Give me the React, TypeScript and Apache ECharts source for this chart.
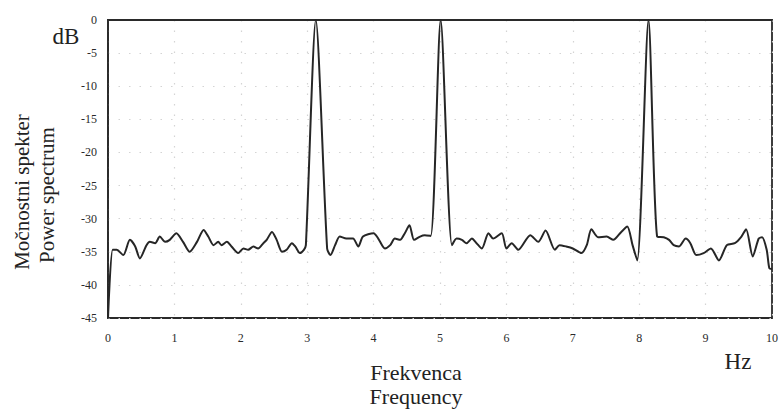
import React, { useEffect, useRef } from "react";
import * as echarts from "echarts";

const freqHz = [
  0, 0.07, 0.13, 0.23, 0.33, 0.41, 0.48, 0.58, 0.63, 0.71, 0.78, 0.86, 0.93, 1.03, 1.13, 1.23, 1.34, 1.44, 1.51, 1.59,
  1.66, 1.71, 1.79, 1.86, 1.96, 2.04, 2.11, 2.19, 2.26, 2.34, 2.39, 2.47, 2.54, 2.62, 2.69, 2.77, 2.82, 2.89, 2.95, 2.98,
  3.13, 3.3, 3.35, 3.42, 3.49, 3.59, 3.69, 3.77, 3.84, 4.0, 4.07, 4.17, 4.25, 4.32, 4.4, 4.47, 4.54, 4.61, 4.7, 4.77,
  4.86, 5.01, 5.18, 5.25, 5.33, 5.4, 5.48, 5.55, 5.63, 5.73, 5.8, 5.93, 6.0, 6.08, 6.18, 6.36, 6.48, 6.59, 6.73, 6.8,
  6.9, 7.0, 7.13, 7.21, 7.28, 7.38, 7.51, 7.61, 7.73, 7.82, 7.9, 7.97, 8.14, 8.27, 8.37, 8.45, 8.52, 8.6, 8.7, 8.77,
  8.86, 8.97, 9.08, 9.2, 9.32, 9.44, 9.54, 9.61, 9.71, 9.8, 9.85, 9.92, 9.96, 10.0,
];

const powerDb = [
  -45, -34.7, -34.7, -35.5, -33.2, -34.2, -36.0, -34.0, -33.5, -33.7, -32.7, -33.5, -33.2, -32.2, -33.5, -35.0, -33.5, -31.7, -32.7, -34.0,
  -33.5, -34.0, -33.5, -34.2, -35.2, -34.5, -34.7, -34.2, -34.5, -33.7, -33.2, -32.0, -33.2, -35.0, -34.7, -33.7, -34.2, -35.2, -34.7, -34.0,
  0, -34.5, -35.5, -34.0, -32.7, -33.0, -33.0, -34.2, -32.7, -32.2, -33.0, -34.5, -34.0, -33.0, -33.2, -32.2, -31.0, -33.2, -32.7, -32.5,
  -32.6, 0, -34.0, -33.0, -33.2, -33.7, -33.0, -33.7, -34.5, -32.2, -33.0, -32.2, -34.5, -33.7, -34.7, -32.5, -33.5, -31.8, -34.7, -34.0,
  -34.2, -34.5, -35.2, -34.0, -31.6, -32.8, -32.7, -33.2, -32.0, -31.2, -34.0, -36.3, 0, -32.7, -32.8, -33.2, -34.0, -34.2, -33.0, -33.7,
  -35.5, -35.2, -34.5, -36.3, -34.0, -33.7, -32.7, -31.6, -35.7, -33.0, -32.8, -34.7, -37.5, -37.6,
];

const yTitleLines = ["Močnostni spekter", "Power spectrum"];
const xTitleLines = ["Frekvenca", "Frequency"];
const yUnit = "dB";
const xUnit = "Hz";

const SERIF = "'Liberation Serif', 'DejaVu Serif', serif";

export default function App() {
  const ref = useRef<HTMLDivElement>(null);

  useEffect(() => {
    if (!ref.current) return;
    const chart = echarts.init(ref.current, undefined, { renderer: "svg" });
    const data = freqHz.map((f, i) => [f, powerDb[i]]);
    chart.setOption({
      animation: false,
      backgroundColor: "#ffffff",
      grid: {
        left: 108,
        right: 9,
        top: 20,
        bottom: 91,
        show: true,
        borderColor: "#2a2a2a",
        borderWidth: 1.8,
        backgroundColor: "transparent",
      },
      xAxis: {
        type: "value",
        min: 0,
        max: 10,
        interval: 1,
        axisLine: { show: true, lineStyle: { color: "#2a2a2a", width: 1.8 } },
        axisTick: { show: false },
        axisLabel: { color: "#2a2a2a", fontFamily: SERIF, fontSize: 12, margin: 14 },
        splitLine: { show: true, lineStyle: { color: "#d4d4d4", type: [1.5, 9], width: 1.2 } },
      },
      yAxis: {
        type: "value",
        min: -45,
        max: 0,
        interval: 5,
        axisLine: { show: true, lineStyle: { color: "#2a2a2a", width: 1.8 } },
        axisTick: { show: false },
        axisLabel: { color: "#2a2a2a", fontFamily: SERIF, fontSize: 12, margin: 11 },
        splitLine: { show: true, lineStyle: { color: "#d4d4d4", type: [1.5, 9], width: 1.2 } },
      },
      series: [
        {
          type: "line",
          data,
          showSymbol: false,
          smooth: 0.25,
          lineStyle: { color: "#262626", width: 2 },
        },
      ],
      graphic: [
        {
          type: "text",
          x: 66,
          y: 36,
          style: { text: yUnit, font: `23px ${SERIF}`, fill: "#222", textAlign: "center", textVerticalAlign: "middle" },
        },
        {
          type: "text",
          x: 738,
          y: 361,
          style: { text: xUnit, font: `23px ${SERIF}`, fill: "#222", textAlign: "center", textVerticalAlign: "middle" },
        },
        {
          type: "text",
          x: 22,
          y: 192,
          rotation: Math.PI / 2,
          style: { text: yTitleLines[0], font: `21px ${SERIF}`, fill: "#222", textAlign: "center", textVerticalAlign: "middle" },
        },
        {
          type: "text",
          x: 47,
          y: 195,
          rotation: Math.PI / 2,
          style: { text: yTitleLines[1], font: `21px ${SERIF}`, fill: "#222", textAlign: "center", textVerticalAlign: "middle" },
        },
        {
          type: "text",
          x: 416,
          y: 372,
          style: { text: xTitleLines[0], font: `22px ${SERIF}`, fill: "#222", textAlign: "center", textVerticalAlign: "middle" },
        },
        {
          type: "text",
          x: 416,
          y: 396,
          style: { text: xTitleLines[1], font: `22px ${SERIF}`, fill: "#222", textAlign: "center", textVerticalAlign: "middle" },
        },
      ],
    });
    return () => chart.dispose();
  }, []);

  return <div ref={ref} style={{ position: "fixed", left: 0, top: 0, width: 781, height: 409 }} />;
}
